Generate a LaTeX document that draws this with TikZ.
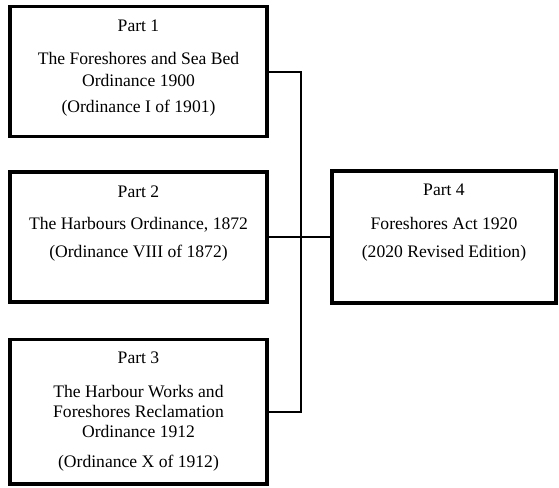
\documentclass[tikz,border=0pt]{standalone}
\usepackage{fontspec}
\setmainfont{Liberation Serif}
\begin{document}
\begin{tikzpicture}[x=1pt,y=-1pt,
  box/.style={draw=black,line width=3.2pt,rectangle,inner sep=0pt},
  conn/.style={draw=black,line width=2pt},
  txt/.style={anchor=base,inner sep=0pt,font=\fontsize{17.6}{22}\selectfont}]
\useasboundingbox (0,0) rectangle (559,487);
% boxes
\node[box,minimum width=257pt,minimum height=130.5pt] (b1) at (138.5,71.5) {};
\node[box,minimum width=257pt,minimum height=130pt] (b2) at (138.5,237) {};
\node[box,minimum width=257pt,minimum height=144.5pt] (b3) at (138.5,411.75) {};
\node[box,minimum width=224pt,minimum height=132pt] (b4) at (444,237) {};
% texts box 1
\node[txt] (t11) at (138.5,32) {Part 1};
\node[txt] (t12) at (138.5,64) {The Foreshores and Sea Bed};
\node[txt] (t13) at (138.5,86) {Ordinance 1900};
\node[txt] (t14) at (138.5,112) {(Ordinance I of 1901)};
% texts box 2
\node[txt] (t21) at (138.5,197) {Part 2};
\node[txt] (t22) at (138.5,229) {The Harbours Ordinance, 1872};
\node[txt] (t23) at (138.5,257) {(Ordinance VIII of 1872)};
% texts box 3
\node[txt] (t31) at (138.5,363) {Part 3};
\node[txt] (t32) at (138.5,397) {The Harbour Works and};
\node[txt] (t33) at (138.5,417) {Foreshores Reclamation};
\node[txt] (t34) at (138.5,437) {Ordinance 1912};
\node[txt] (t35) at (138.5,467) {(Ordinance X of 1912)};
% texts box 4
\node[txt] (t41) at (444,195) {Part 4};
\node[txt] (t42) at (444,229) {Foreshores Act 1920};
\node[txt] (t43) at (444,257) {(2020 Revised Edition)};
% connectors
\coordinate (bus) at (301,237);
\draw[conn] (b1.east) -| (bus) |- (b3.east);
\draw[conn] (b2.east) -- (b4.west);
\end{tikzpicture}
\end{document}
